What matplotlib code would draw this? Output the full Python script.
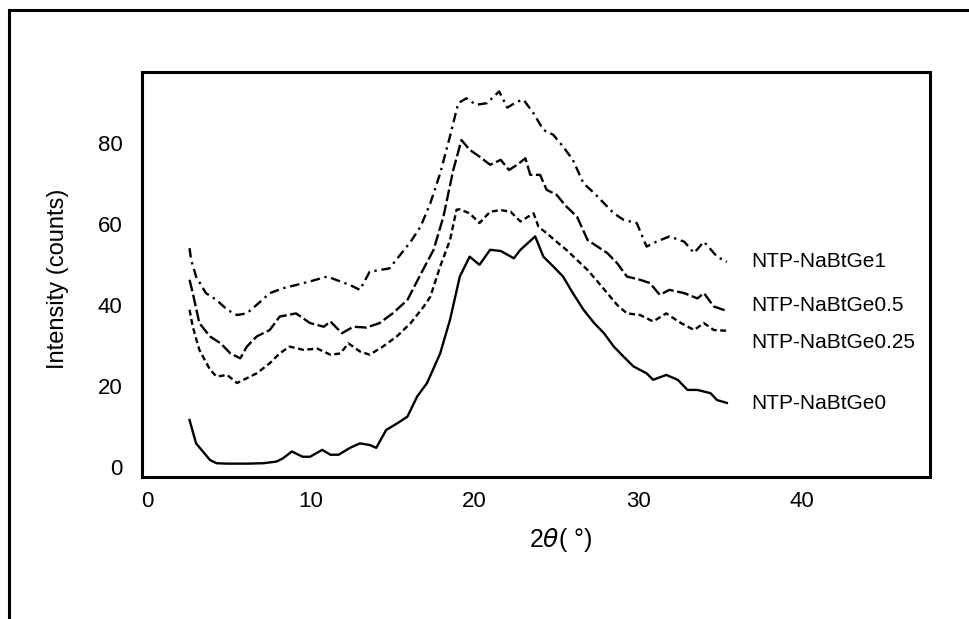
import matplotlib
matplotlib.use("Agg")
import matplotlib.pyplot as plt
from matplotlib.patches import Rectangle

plt.rcParams['font.family'] = ['Liberation Sans', 'DejaVu Sans']

# ---- data ----
x_ge0 = [2.6, 3.0, 3.85, 4.25, 4.9, 5.5, 6.1, 7.1, 7.9, 8.3, 8.85, 9.5, 9.96, 10.7, 11.2, 11.7,
         12.4, 13.0, 13.6, 14.0, 14.6, 15.3, 15.9, 16.5, 17.1, 17.9, 18.5, 19.1, 19.7, 20.3,
         20.95, 21.6, 22.4, 22.8, 23.7, 24.2, 24.8, 25.4, 26.0, 26.65, 27.3, 27.9, 28.5, 29.1,
         29.7, 30.5, 30.9, 31.7, 32.4, 33.0, 33.6, 34.4, 34.8, 35.4]
y_ge0 = [11.6, 5.8, 1.7, 0.9, 0.8, 0.8, 0.8, 0.9, 1.3, 2.1, 3.8, 2.5, 2.5, 4.2, 3.0, 3.0,
         4.7, 5.8, 5.4, 4.7, 9.1, 10.8, 12.4, 17.4, 20.7, 28.0, 36.3, 47.0, 51.9, 49.9,
         53.6, 53.3, 51.5, 53.6, 56.9, 51.9, 49.5, 47.0, 42.9, 38.8, 35.5, 33.0, 29.7, 27.2,
         24.8, 23.1, 21.5, 22.7, 21.5, 19.0, 19.0, 18.2, 16.5, 15.8]

x_ge025 = [2.6, 2.8, 3.2, 3.85, 4.25, 4.9, 5.5, 6.1, 6.7, 7.5, 8.1, 8.7, 9.55, 10.4, 11.2, 11.8,
           12.3, 13.0, 13.6, 14.4, 15.25, 16.1, 16.9, 17.3, 17.9, 18.5, 18.9, 19.1, 19.7, 20.3,
           20.95, 21.6, 22.2, 22.8, 23.6, 23.9, 24.4, 25.0, 25.6, 26.25, 26.9, 27.5, 28.1, 28.7,
           29.3, 30.1, 30.9, 31.7, 32.6, 33.4, 34.0, 34.6, 35.4]
y_ge025 = [38.8, 34.6, 28.9, 24.0, 22.3, 22.7, 20.7, 21.9, 23.1, 25.6, 28.0, 29.7, 28.9, 29.2, 27.7, 28.0,
           30.5, 28.5, 27.7, 29.7, 32.2, 35.5, 39.6, 42.0, 49.5, 56.0, 63.5, 63.6, 62.6, 60.2,
           63.0, 63.4, 63.0, 60.6, 62.6, 59.3, 57.7, 55.6, 53.6, 51.1, 48.6, 45.8, 42.9, 40.0,
           37.9, 37.5, 35.9, 37.9, 35.5, 33.8, 35.5, 33.8, 33.6]

x_ge05 = [2.6, 2.8, 3.2, 3.85, 4.5, 5.1, 5.7, 6.1, 6.7, 7.5, 8.1, 9.1, 9.96, 10.8, 11.2, 11.9,
          12.6, 13.4, 14.2, 15.0, 15.9, 16.7, 17.5, 18.1, 18.7, 19.2, 19.7, 20.3, 20.95, 21.6,
          22.1, 22.6, 23.1, 23.4, 24.0, 24.4, 25.0, 25.6, 26.25, 26.9, 27.5, 28.1, 28.7, 29.3,
          30.1, 30.7, 31.3, 31.9, 32.8, 33.6, 34.0, 34.6, 35.4]
y_ge05 = [46.2, 42.9, 35.5, 32.2, 30.5, 28.0, 26.8, 29.7, 32.2, 33.8, 37.1, 37.9, 35.5, 34.6, 35.9, 33.0,
          34.6, 34.4, 35.5, 37.9, 41.2, 47.5, 53.6, 61.8, 73.3, 80.7, 78.3, 76.6, 74.6, 75.8,
          73.3, 74.6, 76.2, 72.1, 72.1, 68.4, 67.2, 64.3, 61.8, 56.0, 54.4, 52.8, 50.3, 47.0,
          46.2, 45.4, 42.5, 43.7, 42.9, 41.6, 42.9, 39.6, 38.5]

x_ge1 = [2.6, 2.7, 3.0, 3.6, 4.25, 4.9, 5.5, 6.1, 6.7, 7.5, 8.3, 9.1, 9.96, 11.0, 11.8, 12.4,
         13.0, 13.6, 14.2, 14.8, 15.45, 16.1, 16.7, 17.3, 17.9, 18.5, 19.0, 19.5, 20.1, 20.75,
         21.5, 22.0, 22.6, 23.0, 23.6, 24.2, 24.8, 25.4, 26.0, 26.65, 27.3, 27.9, 28.5, 29.1,
         29.9, 30.5, 31.1, 31.9, 32.8, 33.4, 34.0, 34.8, 35.4]
y_ge1 = [54.0, 51.1, 47.0, 42.9, 41.2, 38.8, 37.5, 37.9, 40.0, 42.9, 44.1, 44.9, 45.8, 47.0, 45.8, 44.9,
         43.7, 48.2, 48.6, 49.0, 52.3, 55.6, 59.3, 65.1, 72.5, 81.6, 89.8, 91.0, 89.4, 89.8,
         92.7, 88.7, 90.2, 90.6, 87.3, 83.2, 82.0, 79.1, 75.8, 70.0, 67.6, 65.1, 62.6, 61.0,
         60.2, 54.4, 55.6, 56.9, 55.6, 52.8, 55.6, 51.9, 50.6]

series_names = ["NTP-NaBtGe0", "NTP-NaBtGe0.25", "NTP-NaBtGe0.5", "NTP-NaBtGe1"]
label_y = [15.6, 30.7, 39.8, 50.7]
x_ticks = [0, 10, 20, 30, 40]
y_ticks = [0, 20, 40, 60, 80]

# ---- figure ----
W, H = 969, 619
fig = plt.figure(figsize=(W / 100, H / 100), dpi=100)

# outer frame (only left and top edges visible in the image)
fig.patches.append(Rectangle((9 / W, -0.2), 1.2, (H - 10) / H + 0.2,
                             transform=fig.transFigure, fill=False,
                             edgecolor='black', linewidth=2.2, clip_on=False))

ax = fig.add_axes([142 / W, (H - 477) / H, (930 - 142) / W, (477 - 72) / H])

styles = [
    dict(linestyle='-'),
    dict(linestyle=(0, (2.5, 1.5))),
    dict(linestyle=(0, (5, 1.5))),
    dict(linestyle=(0, (4, 2, 1, 2))),
]
xs = [x_ge0, x_ge025, x_ge05, x_ge1]
ys = [y_ge0, y_ge025, y_ge05, y_ge1]
for xv, yv, st in zip(xs, ys, styles):
    ax.plot(xv, yv, color='black', linewidth=1.7, **st)

for name, yl in zip(series_names, label_y):
    ax.text(36.9, yl, name, fontsize=15, va='center', ha='left')

ax.set_xlim(-0.3, 47.8)
ax.set_ylim(-2.5, 97.5)
ax.set_xticks(x_ticks)
ax.set_yticks(y_ticks)
ax.tick_params(axis='x', length=0, labelsize=16, pad=10)
ax.tick_params(axis='y', length=0, labelsize=16, pad=14)
for s in ax.spines.values():
    s.set_linewidth(2.2)

ax.set_xlabel(r"2$\it{\theta}$( °)", fontsize=18)
ax.set_ylabel("Intensity (counts)", fontsize=17)
ax.xaxis.set_label_coords((561 - 142) / 788, -(540 - 477) / 405)
ax.yaxis.set_label_coords(-(142 - 58) / 788, (477 - 279) / 405)
ax.xaxis.label.set_va('center')
ax.yaxis.label.set_va('center')

fig.savefig("out.png", dpi=100)
